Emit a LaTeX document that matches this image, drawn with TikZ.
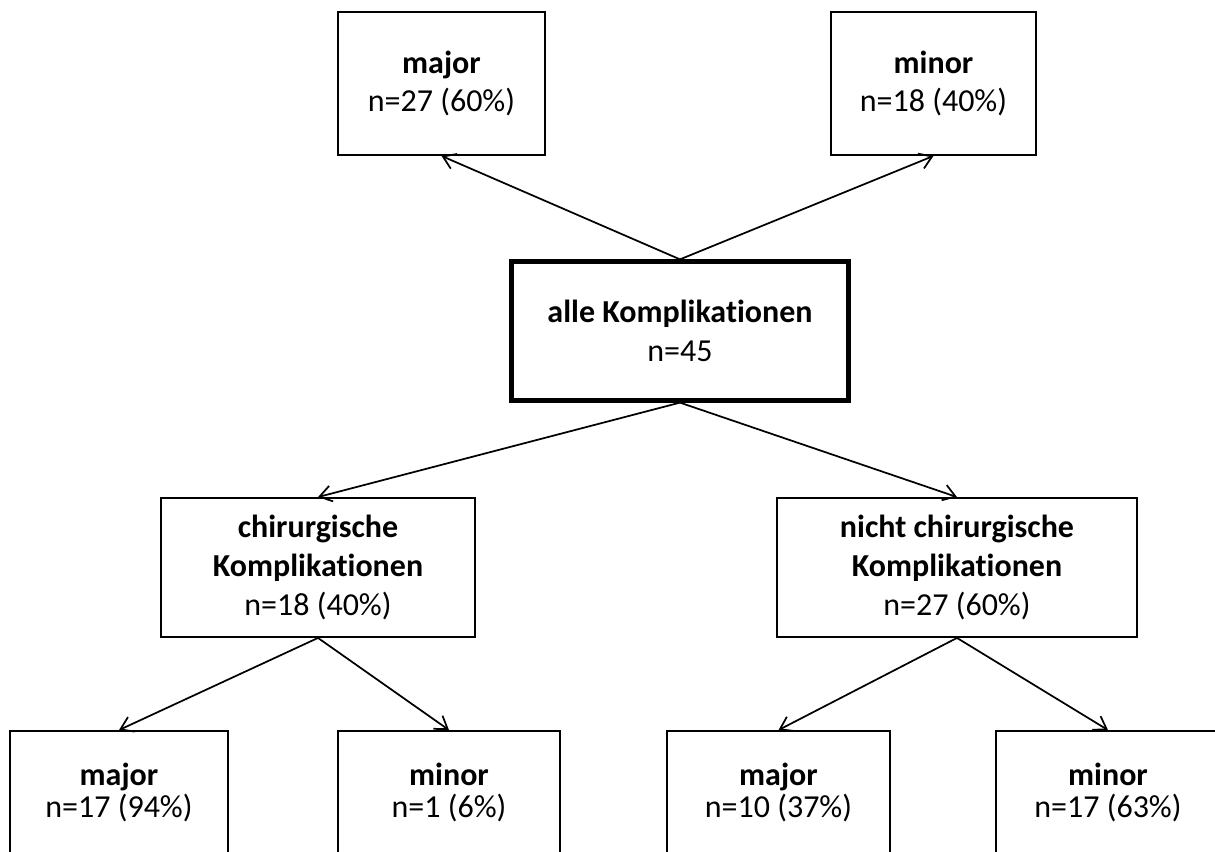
\documentclass[tikz,border=0pt]{standalone}
\usepackage{fontspec}
\setmainfont{Carlito}[Ligatures=NoCommon]
\usetikzlibrary{arrows.meta}
\begin{document}
\begin{tikzpicture}[x=0.75pt,y=-0.75pt,
  box/.style={draw=black,line width=1.4pt,inner sep=0pt,align=center,
    font=\fontsize{24}{29}\selectfont},
  lowbox/.style={box,font=\fontsize{24}{23.5}\selectfont},
  mainbox/.style={box,line width=3.2pt},
  link/.style={line width=1.3pt,-{Straight Barb[length=9pt,width=12pt,line width=1.3pt]}}]
\useasboundingbox (0,0) rectangle (1215,852);
\clip (0,0) rectangle (1215,852);

% root
\node[mainbox,minimum width=252.75pt,minimum height=104.25pt] (all) at (680,331)
  {\textbf{alle Komplikationen}\\n=45};

% severity of all complications
\node[box,minimum width=155.25pt,minimum height=107.25pt] (allmaj) at (441.5,83.5)
  {\textbf{major}\\n=27 (60\%)};
\node[box,minimum width=153.75pt,minimum height=107.25pt] (allmin) at (933.5,83.5)
  {\textbf{minor}\\n=18 (40\%)};

% type of complication
\node[box,minimum width=235.5pt,minimum height=104.25pt] (chir) at (318,567.5)
  {\textbf{chirurgische}\\\textbf{Komplikationen}\\n=18 (40\%)};
\node[box,minimum width=270pt,minimum height=104.25pt] (nchir) at (957,567.5)
  {\textbf{nicht chirurgische}\\\textbf{Komplikationen}\\n=27 (60\%)};

% severity per type
\node[lowbox,minimum width=163.5pt,minimum height=92.25pt] (chirmaj) at (119,792.5)
  {\textbf{major}\\n=17 (94\%)};
\node[lowbox,minimum width=166.5pt,minimum height=92.25pt] (chirmin) at (449,792.5)
  {\textbf{minor}\\n=1 (6\%)};
\node[lowbox,minimum width=167.25pt,minimum height=92.25pt] (nchirmaj) at (778.5,792.5)
  {\textbf{major}\\n=10 (37\%)};
\node[lowbox,minimum width=168pt,minimum height=92.25pt] (nchirmin) at (1108,792.5)
  {\textbf{minor}\\n=17 (63\%)};

% connectors
\draw[link] (all.north) -- (allmaj.south);
\draw[link] (all.north) -- (allmin.south);
\draw[link] (all.south) -- (chir.north);
\draw[link] (all.south) -- (nchir.north);
\draw[link] (chir.south) -- (chirmaj.north);
\draw[link] (chir.south) -- (chirmin.north);
\draw[link] (nchir.south) -- (nchirmaj.north);
\draw[link] (nchir.south) -- (nchirmin.north);
\end{tikzpicture}
\end{document}
